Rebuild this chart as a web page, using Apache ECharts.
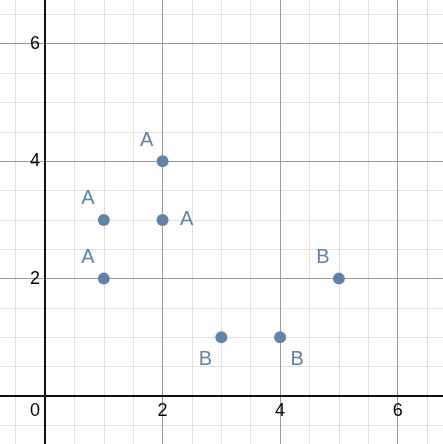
<!DOCTYPE html>
<html>
<head>
<meta charset="utf-8">
<script src="https://cdn.jsdelivr.net/npm/echarts@6/dist/echarts.min.js"></script>
<style>
html,body{margin:0;padding:0;background:#fff;}
#chart{width:443px;height:444px;}
</style>
</head>
<body>
<div id="chart"></div>
<script>
// Data
const seriesAName = 'A';
const seriesAPoints = [[2, 4], [1, 3], [2, 3], [1, 2]];
const seriesAPlacement = ['tl', 'tl', 'r', 'tl'];
const seriesBName = 'B';
const seriesBPoints = [[5, 2], [3, 1], [4, 1]];
const seriesBPlacement = ['tl', 'bl', 'br'];
const xTickLabels = ['0', '2', '4', '6'];
const yTickLabels = ['2', '4', '6'];

const pointColor = '#6283a6';
const majorColor = '#9a9a9a';
const minorColor = '#e0e0e0';
const axisColor = '#111111';
const font = 'Liberation Sans, Arial, sans-serif';

const offsets = {tl: [-16, -21], r: [24, 0], bl: [-16, 22], br: [17, 22]};

function buildData(points, placement) {
  return points.map((p, i) => ({
    value: p,
    label: {offset: offsets[placement[i]]}
  }));
}

const chart = echarts.init(document.getElementById('chart'));

const axisRange = {min: -2, max: 8};

const option = {
  animation: false,
  backgroundColor: '#ffffff',
  grid: {left: -72.5, right: -72.2, top: -73.7, bottom: -69.5, containLabel: false, outerBoundsMode: 'none'},
  xAxis: [
    {
      type: 'value', ...axisRange, interval: 2, position: 'bottom', z: 3, offset: -117.44,
      axisLine: {show: true, onZero: false, lineStyle: {color: axisColor, width: 2}},
      axisTick: {show: false},
      splitLine: {show: true, lineStyle: {color: majorColor, width: 1}},
      axisLabel: {
        margin: 6, fontSize: 18, fontFamily: font, color: '#000',
        formatter: v => {
          const s = String(v);
          if (!xTickLabels.includes(s)) return '';
          return v === 0 ? '{z|0}' : s;
        },
        rich: {z: {fontSize: 18, fontFamily: font, color: '#000', padding: [0, 20, 0, 0]}}
      }
    },
    {
      type: 'value', ...axisRange, interval: 0.5, position: 'top', z: 1,
      axisLine: {show: false}, axisTick: {show: false}, axisLabel: {show: false},
      splitLine: {show: true, lineStyle: {color: minorColor, width: 1}}
    }
  ],
  yAxis: [
    {
      type: 'value', ...axisRange, interval: 2, position: 'left', z: 3, offset: -117.54,
      axisLine: {show: true, onZero: false, lineStyle: {color: axisColor, width: 2}},
      axisTick: {show: false},
      splitLine: {show: true, lineStyle: {color: majorColor, width: 1}},
      axisLabel: {
        margin: 5, fontSize: 18, fontFamily: font, color: '#000',
        formatter: v => (yTickLabels.includes(String(v)) ? String(v) : '')
      }
    },
    {
      type: 'value', ...axisRange, interval: 0.5, position: 'right', z: 1,
      axisLine: {show: false}, axisTick: {show: false}, axisLabel: {show: false},
      splitLine: {show: true, lineStyle: {color: minorColor, width: 1}}
    }
  ],
  series: [
    {
      name: seriesAName, type: 'scatter', xAxisIndex: 0, yAxisIndex: 0, z: 5,
      symbolSize: 12, itemStyle: {color: pointColor, opacity: 1},
      label: {show: true, position: 'inside', formatter: seriesAName, fontSize: 20, fontFamily: font, color: pointColor},
      data: buildData(seriesAPoints, seriesAPlacement)
    },
    {
      name: seriesBName, type: 'scatter', xAxisIndex: 0, yAxisIndex: 0, z: 5,
      symbolSize: 12, itemStyle: {color: pointColor, opacity: 1},
      label: {show: true, position: 'inside', formatter: seriesBName, fontSize: 20, fontFamily: font, color: pointColor},
      data: buildData(seriesBPoints, seriesBPlacement)
    }
  ]
};
chart.setOption(option);
</script>
</body>
</html>
